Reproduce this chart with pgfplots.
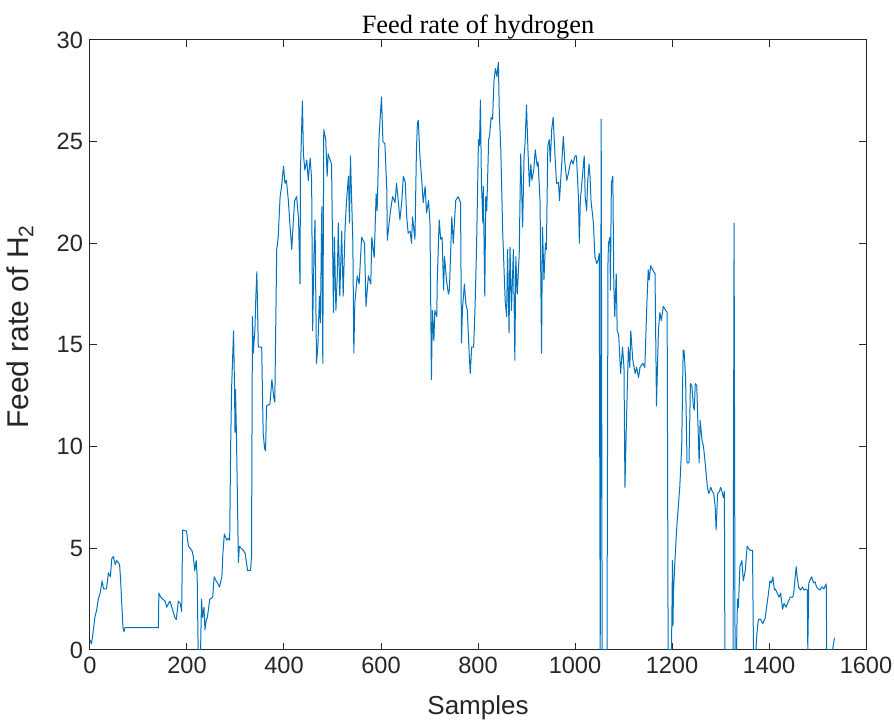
\documentclass[border=0pt]{standalone}
\usepackage{pgfplots}
\pgfplotsset{compat=1.18}
\usepackage{fontspec}
\setmainfont{Liberation Sans}
\newfontfamily\serifttl{Liberation Serif}
\definecolor{mblue}{RGB}{0,114,189}
\definecolor{axgray}{RGB}{38,38,38}
\begin{document}
\begin{tikzpicture}
\begin{axis}[
  name=ax,
  scale only axis,
  width=388pt, height=305pt,
  xmin=0, xmax=1600, ymin=0, ymax=30,
  xtick={0,200,...,1600}, ytick={0,5,...,30},
  scaled ticks=false,
  /pgf/number format/assume math mode=true,
  /pgf/number format/1000 sep={},
  tick align=inside,
  major tick length=3.5pt,
  axis line style={axgray, line width=0.5pt},
  every tick/.style={axgray, line width=0.5pt},
  tick label style={font=\fontsize{11.8}{13}\selectfont, text=axgray},
  xlabel={Samples},
  ylabel={Feed rate of H\textsubscript{2}},
  every axis x label/.style={at={(axis description cs:0.5,-0.095)}, anchor=center, font=\fontsize{13}{15}\selectfont, text=axgray},
  every axis y label/.style={at={(axis description cs:-0.09,0.53)}, rotate=90, anchor=center, font=\fontsize{15}{17}\selectfont, text=axgray},
  title={Feed rate of hydrogen},
  every axis title/.style={font=\serifttl\fontsize{13.2}{15}\selectfont, at={(axis description cs:0.5,1)}, anchor=base, yshift=3pt, inner sep=0pt},
]
\addplot[mblue, line width=0.5pt, line join=round] coordinates {
(0,0.5)(3,0.3)(6,0.8)(10,1.6)(14,2.0)(17,2.5)(21,2.8)(25,3.4)(28,3.0)(34,3.0)(38,3.8)(42,3.6)(45,4.5)(48,4.6)(52,4.2)(55,4.4)(58,4.3)(61,4.2)(63,3.5)(65,2.5)(68,1.1)(70,0.9)(72,1.1)(141,1.1)
(142,2.8)(146,2.6)(150,2.5)(155,2.4)(158,2.1)(162,2.3)(165,2.4)(170,2.0)(175,1.6)(178,1.5)(182,2.4)(186,2.3)(189,1.9)(191,5.9)(199,5.85)(203,5.1)(210,4.9)(213,4.6)(216,3.9)(219,4.4)(221,3.6)(223,0)(228,0)
(230,2.5)(232,1.6)(235,2.1)(237,1.0)(240,1.5)(242,1.6)(247,2.5)(253,2.6)(256,3.6)(260,3.4)(263,3.3)(267,3.1)(272,3.6)(274,4.75)(277,5.7)(282,5.4)(285,5.5)(288,5.4)
(290,10.0)(292,12.9)(296,15.7)(298,12.9)(299,10.7)(300,12.8)(302,10.5)(304,7.4)(306,4.3)(308,5.1)(312,5.0)(316,4.9)(320,4.75)(325,3.9)(331,3.9)(333,4.6)
(335,16.4)(337,14.6)(338,15.1)(340,15.7)(342,17.4)(344,18.6)(345,17.4)(347,14.9)(354,14.9)(357,10.7)(360,9.9)(362,9.8)(364,12.0)(371,12.1)(375,13.3)(379,12.4)(381,12.2)
(385,19.7)(388,20.3)(392,22.3)(395,22.8)(399,23.8)(402,22.95)(405,23.1)(409,22.1)(412,21.0)(416,19.7)(419,21.0)(422,22.1)(426,22.3)(430,21.2)(433,18.0)(434,23.6)(438,27.0)(440,24.4)(443,23.6)(447,24.1)(450,23.1)(454,24.2)(457,23.1)
(459,15.7)(462,19.7)(464,21.15)(467,14.1)(470,15.0)(473,17.4)(475,16.1)(478,21.8)(480,14.1)(482,25.6)(486,25.1)(489,23.3)(491,24.4)(495,24.1)(498,23.9)
(502,16.6)(504,20.3)(507,16.7)(510,18.5)(512,21.0)(515,17.4)(519,20.6)(522,17.4)(526,20.8)(529,22.1)(533,23.3)(535,21.0)(537,24.3)(542,20.0)(544,14.6)(546,17.05)(551,18.4)(555,18.0)(560,20.3)(566,20.0)(569,16.9)(574,18.4)(579,18.0)(581,20.3)(586,19.3)(590,22.45)(592,21.6)(596,25.25)(601,27.2)(604,25.0)(608,24.9)(612,22.6)(613,20.15)(619,21.5)(624,22.3)(629,22.0)(632,22.95)(636,22.0)(639,21.15)(643,22.1)(646,23.3)(650,23.0)(653,21.3)(656,20.5)(660,20.6)(663,20.0)(665,21.3)(670,20.2)
(673,24.5)(675,25.9)(677,26.05)(680,24.4)(684,23.1)(687,22.0)(691,22.8)(694,21.5)(698,22.1)(701,21.0)(704,13.3)(706,16.7)(709,15.2)(711,16.7)(715,16.4)(716,18.2)(720,21.15)(723,20.2)(726,20.3)(729,17.7)(731,19.35)(735,18.2)(739,17.5)(741,17.7)(746,21.3)(749,20.0)(754,22.1)(759,22.3)(764,22.0)
(766,15.1)(768,16.8)(772,18.0)(775,17.0)(778,16.7)(781,15.0)(784,13.6)(787,14.9)(791,14.9)(794,16.9)(797,19.8)(801,25.1)(803,24.8)(805,27.05)(807,23.1)(810,21.0)(811,22.8)(814,17.4)(816,22.3)(818,21.6)(822,25.1)(824,25.3)(827,26.2)(830,26.1)(833,28.0)(836,28.6)(839,28.2)(842,28.9)(844,26.4)(847,24.6)
(851,20.5)(856,17.2)(859,16.4)(861,19.7)(864,15.6)(866,19.8)(869,16.7)(873,19.7)(876,14.25)(878,19.35)(881,17.5)(885,19.5)(888,24.4)(892,20.8)(895,24.3)(897,24.9)(900,26.8)(903,24.6)(906,22.8)(909,23.9)(911,23.1)(915,23.6)(918,24.6)(922,23.8)(924,24.0)(928,22.0)(931,14.6)(933,20.8)(936,18.2)(939,20.0)(941,19.7)
(944,24.8)(947,25.1)(949,24.0)(952,25.6)(955,26.2)(959,24.2)(962,22.95)(966,23.0)(968,22.1)(971,23.3)(976,25.25)(979,24.0)(983,23.1)(986,23.4)(990,23.9)(993,24.1)(996,23.9)(1000,24.3)(1003,24.3)(1007,22.3)(1009,20.0)(1011,22.1)(1014,22.95)(1019,24.3)(1021,22.3)(1024,21.6)(1026,22.95)(1029,23.9)(1031,23.3)(1033,22.1)(1038,21.0)(1041,19.35)(1045,19.0)(1048,19.2)(1050,19.5)
(1052,0)(1054,26.1)(1056,0)(1066,0)(1068,19.0)(1069,20.0)(1072,20.3)(1073,17.7)(1075,22.95)(1078,23.3)(1080,18.0)(1082,16.4)(1085,18.5)(1087,15.7)(1090,15.5)(1094,13.6)(1098,14.9)(1101,13.9)(1103,8.0)(1106,11.15)(1110,14.9)(1113,13.9)(1115,15.7)(1119,14.3)(1124,13.6)(1127,13.9)(1131,13.4)(1134,13.9)(1140,14.1)(1144,13.9)
(1148,16.9)(1151,18.7)(1153,18.2)(1156,18.9)(1160,18.7)(1165,18.5)(1168,12.0)(1172,15.7)(1175,16.6)(1178,16.2)(1182,16.9)(1187,16.7)(1190,16.6)(1192,0)(1199,0)(1201,4.4)(1202,1.2)(1203,2.8)(1206,4.4)(1210,6.1)(1213,7.05)(1216,8.0)(1220,10.0)(1223,14.75)(1225,14.7)(1228,13.4)(1231,9.2)(1235,9.2)(1238,13.1)(1241,13.0)(1244,12.0)(1246,11.8)(1248,13.1)(1251,13.0)(1256,9.2)(1258,11.3)(1262,10.3)(1265,10.0)(1268,9.3)(1273,8.0)(1276,7.7)(1280,8.0)(1283,7.8)(1286,7.7)(1289,7.05)(1291,5.9)(1294,7.7)(1298,7.8)(1300,8.0)(1303,7.8)(1306,7.5)(1308,7.8)(1309,0)(1326,0)
(1328,21.0)(1330,0)(1333,0)(1335,2.5)(1337,2.1)(1340,4.1)(1344,4.4)(1347,3.4)(1351,3.9)(1355,5.1)(1361,4.9)(1366,4.9)(1368,0)(1373,0)(1375,0.8)(1378,1.5)(1383,1.5)(1387,1.3)(1392,1.55)(1395,2.1)(1399,2.8)(1402,3.4)(1405,3.3)(1408,3.6)(1411,2.95)(1413,3.0)(1417,2.8)(1421,2.6)(1424,2.8)(1428,2.0)(1431,2.3)(1435,2.1)(1440,2.4)(1444,2.6)(1449,2.6)(1451,2.8)(1456,4.1)(1458,3.6)(1461,3.1)(1465,2.95)(1469,3.1)(1472,2.95)(1476,3.0)(1479,2.95)(1480,0)(1482,3.3)(1484,3.4)(1488,3.6)(1492,3.3)(1495,3.35)(1498,3.1)(1502,3.0)(1505,2.95)(1509,3.1)(1513,3.0)(1518,3.25)(1519,0)(1531,0)(1535,0.6)
};
\end{axis}
\pgfresetboundingbox
\path ([xshift=-45pt,yshift=-36pt]ax.south west) rectangle ([xshift=14pt,yshift=20pt]ax.north east);
\end{tikzpicture}
\end{document}
